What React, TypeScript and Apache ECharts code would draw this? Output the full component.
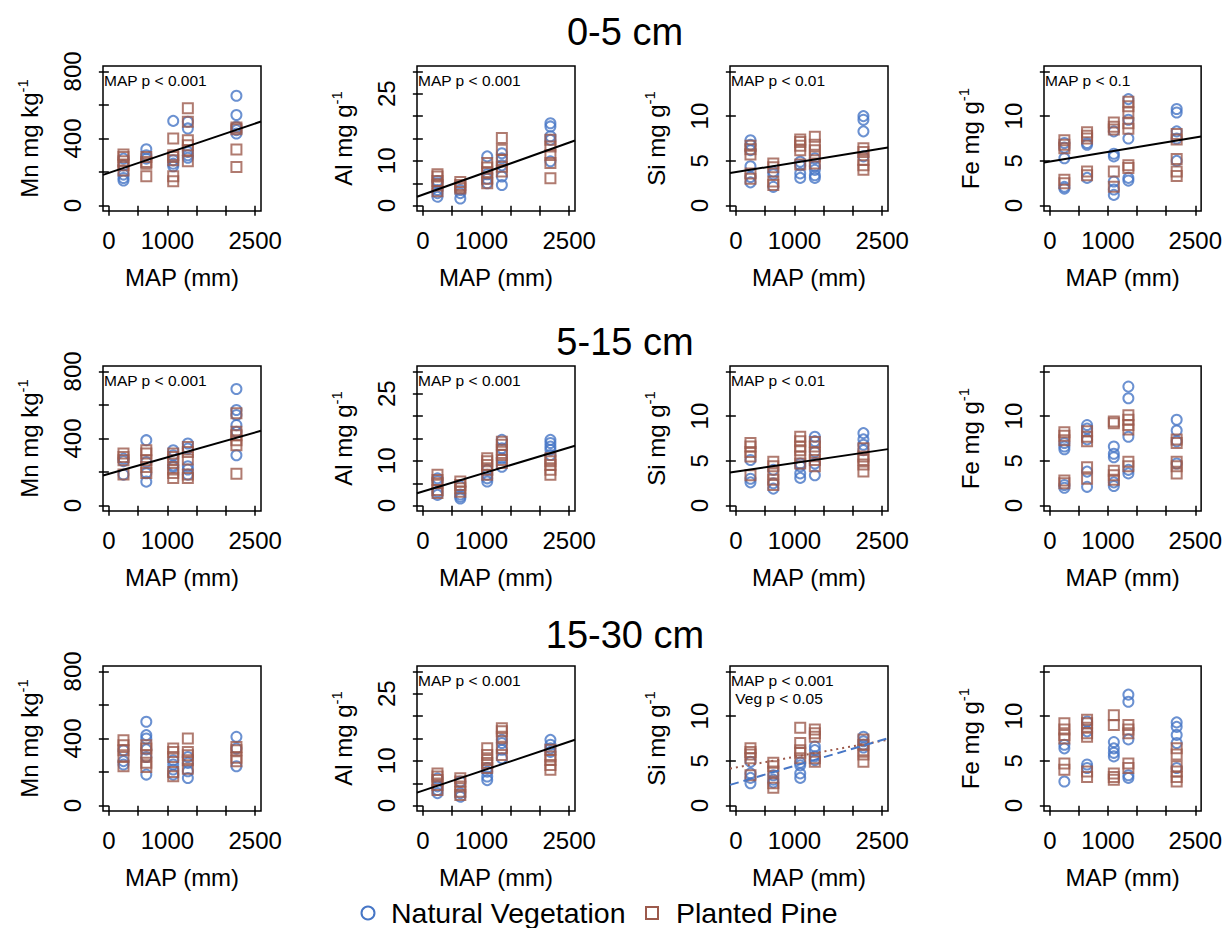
import React, { useEffect, useRef } from 'react';
import * as echarts from 'echarts';

// ---------- data ----------
const MAP = [250, 640, 1100, 1350, 2180];

const xTicks = [0, 500, 1000, 1500, 2000, 2500];
const xLabels = [0, 1000, 2500];
const mnTicks = [0, 200, 400, 600, 800];
const mnLabels = [0, 400, 800];
const alTicks = [0, 5, 10, 15, 20, 25, 30];
const alLabels = [0, 10, 25];
const siTicks = [0, 5, 10, 15];
const siLabels = [0, 5, 10];
const feTicks = [0, 5, 10, 15];
const feLabels = [0, 5, 10];

const depths = ['0-5 cm', '5-15 cm', '15-30 cm'];

// 0-5 cm
const mn05Nat = [[150, 165, 185, 240, 280], [336, 300, 280], [505, 270, 250, 235], [500, 460, 320, 285, 300], [655, 540, 470, 430, 450]];
const mn05Pine = [[210, 240, 265, 290, 305], [290, 250, 175, 260], [400, 290, 270, 175, 145, 300], [580, 500, 390, 360, 265, 330], [465, 455, 335, 230]];
const al05Nat = [[2.0, 2.8, 3.5, 5.0, 5.5], [1.6, 2.8, 3.5], [11.0, 7.0, 6.0, 5.0], [11.7, 10.6, 9.0, 6.5, 4.6], [18.4, 17.7, 15.5, 14.7, 9.9]];
const al05Pine = [[3.2, 4.5, 5.5, 6.5, 7.0], [3.8, 4.6, 5.3, 4.2], [9.5, 8.5, 7.5, 6.0, 5.0], [15.1, 12.5, 10.2, 8.7, 7.6], [14.7, 13.2, 11.3, 9.5, 6.1]];
const si05Nat = [[7.3, 6.8, 6.2, 4.4, 3.2, 2.6], [3.8, 3.5, 2.1], [4.9, 4.5, 3.6, 3.1], [5.3, 4.4, 4.0, 3.4, 3.1], [10.0, 9.6, 8.3, 5.5]];
const si05Pine = [[6.7, 6.3, 5.7, 3.6, 3.0], [4.7, 4.3, 2.7, 2.3], [7.4, 7.1, 6.7, 6.2, 4.6], [7.7, 6.8, 6.2, 5.5, 4.7], [6.4, 6.0, 5.1, 4.5, 4.0]];
const fe05Nat = [[7.0, 6.5, 5.3, 2.1, 1.9], [6.8, 7.0, 3.1], [8.3, 5.8, 5.5, 2.7, 1.8, 1.2], [11.9, 9.6, 7.5, 3.1, 2.8], [10.8, 10.4, 8.3, 7.5, 5.0]];
const fe05Pine = [[7.3, 6.8, 6.4, 2.9, 2.5], [8.2, 7.8, 7.5, 3.8, 3.4], [9.3, 8.8, 8.5, 3.8, 2.1], [11.6, 11.1, 10.4, 9.2, 8.6, 4.5, 4.2], [8.0, 7.4, 5.2, 3.8, 3.3]];

// 5-15 cm
const mn515Nat = [[280, 265, 185], [390, 260, 193, 143], [330, 300, 240, 230], [370, 340, 235, 215, 185], [695, 570, 540, 480, 440, 300]];
const mn515Pine = [[310, 290, 270, 185], [330, 310, 270, 230, 195], [310, 290, 270, 215, 195, 165], [350, 320, 275, 185, 165], [550, 440, 420, 390, 360, 190]];
const al515Nat = [[6.1, 5.5, 3.1, 2.4], [4.3, 2.5, 2.0, 1.6], [8.0, 6.9, 6.1, 5.4], [14.7, 12.8, 10.6, 8.7], [14.7, 14.0, 13.2, 12.5, 11.3]];
const al515Pine = [[6.9, 5.7, 5.0, 3.5, 2.8], [5.4, 4.6, 3.9, 3.1], [10.6, 9.9, 9.1, 8.0, 6.9], [14.3, 13.6, 12.5, 11.3, 10.2, 9.5], [10.6, 9.9, 9.1, 8.0, 6.9]];
const si515Nat = [[5.1, 3.0, 2.6], [4.0, 2.5, 1.9], [4.7, 4.4, 3.6, 3.1], [7.7, 7.2, 6.0, 4.7, 3.4], [8.1, 7.4, 6.8, 6.2]];
const si515Pine = [[7.0, 6.6, 6.0, 5.5, 3.4], [4.9, 4.4, 3.6, 2.9, 2.3], [7.7, 7.2, 6.6, 6.2, 5.5, 4.7], [7.1, 6.6, 5.9, 5.1, 4.4], [6.4, 5.5, 5.1, 4.6, 3.8]];
const fe515Nat = [[7.0, 6.6, 6.3, 2.3, 2.0], [9.0, 8.6, 7.4, 3.8, 2.1], [6.6, 5.8, 5.4, 2.6, 2.2], [13.3, 12.0, 7.7, 4.0, 3.6], [9.6, 8.4, 7.2, 4.7]];
const fe515Pine = [[8.2, 7.8, 7.3, 2.8, 2.5], [8.3, 7.7, 7.2, 4.3, 3.0], [9.4, 9.2, 3.9, 3.4, 2.9], [10.1, 9.6, 9.0, 8.5, 4.9, 4.4], [7.4, 7.0, 4.9, 4.4, 3.6]];

// 15-30 cm
const mn1530Nat = [[330, 265, 245], [500, 420, 400, 335, 290, 185], [270, 245, 215, 185], [290, 255, 205, 165], [410, 340, 235]];
const mn1530Pine = [[390, 360, 330, 290, 235], [360, 340, 300, 255, 230], [340, 320, 290, 200, 175], [400, 320, 300, 270, 220], [350, 330, 285, 265]];
const al1530Nat = [[6.1, 4.3, 3.5, 2.8], [5.4, 2.8, 2.0], [8.4, 7.6, 6.5, 5.7], [14.7, 14.0, 12.5, 10.6], [14.7, 13.6, 12.8, 12.0]];
const al1530Pine = [[7.2, 6.5, 5.7, 4.6, 3.5], [6.1, 5.4, 4.3, 3.1, 2.4], [12.8, 11.3, 10.2, 9.5, 8.4], [17.3, 16.6, 15.4, 12.8, 11.3], [12.5, 11.0, 10.2, 9.1, 8.0]];
const si1530Nat = [[4.9, 3.6, 3.1, 2.5], [3.4, 2.9, 2.6], [4.8, 4.5, 3.6, 3.1], [6.6, 6.2, 5.5, 5.1], [7.7, 7.2, 6.8, 6.5]];
const si1530Pine = [[6.4, 6.0, 5.7, 5.3, 3.4], [4.8, 4.4, 3.8, 2.5, 2.0], [8.7, 7.0, 6.2, 5.9, 5.3], [8.5, 8.1, 7.7, 5.3, 4.9], [7.4, 6.8, 6.2, 5.7, 4.9]];
const fe1530Nat = [[6.8, 6.4, 2.7], [9.4, 8.3, 4.6, 4.2], [7.1, 6.4, 5.9, 5.5], [12.4, 11.6, 7.4, 3.4, 3.1], [9.3, 8.8, 7.9, 7.0, 4.2]];
const fe1530Pine = [[9.2, 8.5, 7.9, 7.5, 4.7, 4.0], [9.6, 9.2, 8.7, 8.1, 7.7, 3.8, 3.2], [10.1, 9.0, 3.6, 3.2, 2.9], [9.0, 8.5, 8.1, 4.7, 4.2], [6.4, 5.7, 4.4, 3.8, 3.2, 2.7]];

// fitted lines: [intercept, slope per mm]
const mn05Fit = [195, 0.1178];
const al05Fit = [2.46, 0.004648];
const si05Fit = [3.74, 0.00106];
const fe05Fit = [4.92, 0.001078];
const mn515Fit = [189, 0.0989];
const al515Fit = [3.17, 0.00392];
const si515Fit = [3.79, 0.00097];
const al1530Fit = [3.35, 0.00437];
const si1530NatFit = [2.51, 0.00193];
const si1530PineFit = [4.26, 0.00119];

// ---------- styling / layout ----------
const FONT = "'Liberation Sans', Arial, Helvetica, sans-serif";
const BLUE = '#4676C6';
const BROWN = '#9C5A4C';
const boxLeft = [103, 417, 730, 1044];
const boxTop = [66, 366, 666];
const boxW = 158;
const boxH = 145;
const xLim = [0, 2500];
const AX_FS = 24;

type El = 'Mn' | 'Al' | 'Si' | 'Fe';
const yLim: Record<El, number[]> = { Mn: [0, 800], Al: [0, 30], Si: [0, 15], Fe: [0, 15] };
const yTickMap: Record<El, number[]> = { Mn: mnTicks, Al: alTicks, Si: siTicks, Fe: feTicks };
const yLabMap: Record<El, number[]> = { Mn: mnLabels, Al: alLabels, Si: siLabels, Fe: feLabels };
const yUnit: Record<El, string> = { Mn: 'mg kg', Al: 'mg g', Si: 'mg g', Fe: 'mg g' };

type Fit = { coef: number[]; color: string; type: any };
type Panel = { el: El; nat: number[][]; pine: number[][]; fits: Fit[]; notes: string[] };

const solid = (coef: number[]): Fit => ({ coef, color: '#000', type: 'solid' });

const panels: Panel[] = [
  { el: 'Mn', nat: mn05Nat, pine: mn05Pine, fits: [solid(mn05Fit)], notes: ['MAP p < 0.001'] },
  { el: 'Al', nat: al05Nat, pine: al05Pine, fits: [solid(al05Fit)], notes: ['MAP p < 0.001'] },
  { el: 'Si', nat: si05Nat, pine: si05Pine, fits: [solid(si05Fit)], notes: ['MAP p < 0.01'] },
  { el: 'Fe', nat: fe05Nat, pine: fe05Pine, fits: [solid(fe05Fit)], notes: ['MAP p < 0.1'] },
  { el: 'Mn', nat: mn515Nat, pine: mn515Pine, fits: [solid(mn515Fit)], notes: ['MAP p < 0.001'] },
  { el: 'Al', nat: al515Nat, pine: al515Pine, fits: [solid(al515Fit)], notes: ['MAP p < 0.001'] },
  { el: 'Si', nat: si515Nat, pine: si515Pine, fits: [solid(si515Fit)], notes: ['MAP p < 0.01'] },
  { el: 'Fe', nat: fe515Nat, pine: fe515Pine, fits: [], notes: [] },
  { el: 'Mn', nat: mn1530Nat, pine: mn1530Pine, fits: [], notes: [] },
  { el: 'Al', nat: al1530Nat, pine: al1530Pine, fits: [solid(al1530Fit)], notes: ['MAP p < 0.001'] },
  {
    el: 'Si', nat: si1530Nat, pine: si1530Pine,
    fits: [
      { coef: si1530PineFit, color: BROWN, type: [2, 4] },
      { coef: si1530NatFit, color: BLUE, type: [9, 5] },
    ],
    notes: ['MAP p < 0.001', ' Veg p < 0.05'],
  },
  { el: 'Fe', nat: fe1530Nat, pine: fe1530Pine, fits: [], notes: [] },
];

const pad = (lim: number[]) => {
  const d = (lim[1] - lim[0]) * 0.04;
  return [lim[0] - d, lim[1] + d];
};

const toPoints = (sites: number[][]) => {
  const out: number[][] = [];
  sites.forEach((vals, i) => vals.forEach((v) => out.push([MAP[i], v])));
  return out;
};

const plain = (v: number) => String(v);

function buildOption() {
  const grid: any[] = [];
  const xAxis: any[] = [];
  const yAxis: any[] = [];
  const series: any[] = [];
  const graphic: any[] = [];
  const xr = pad(xLim);

  panels.forEach((p, i) => {
    const r = Math.floor(i / 4);
    const c = i % 4;
    const L = boxLeft[c];
    const T = boxTop[r];
    grid.push({ left: L, top: T, width: boxW, height: boxH, show: true, borderColor: '#000', borderWidth: 1.5, backgroundColor: 'transparent' });
    xAxis.push({
      type: 'value', gridIndex: i, min: xr[0], max: xr[1],
      axisLine: { show: false }, splitLine: { show: false },
      axisTick: { show: true, inside: false, length: 10, customValues: xTicks, lineStyle: { color: '#000', width: 1.5 } },
      axisLabel: { customValues: xLabels, formatter: plain, fontSize: AX_FS, color: '#000', fontFamily: FONT, margin: 17 },
      name: 'MAP (mm)', nameLocation: 'middle', nameGap: 54,
      nameTextStyle: { fontSize: AX_FS, color: '#000', fontFamily: FONT },
    });
    const yr = pad(yLim[p.el]);
    yAxis.push({
      type: 'value', gridIndex: i, min: yr[0], max: yr[1],
      axisLine: { show: false }, splitLine: { show: false },
      axisTick: { show: true, inside: false, length: 10, customValues: yTickMap[p.el], lineStyle: { color: '#000', width: 1.5 } },
      axisLabel: { customValues: yLabMap[p.el], formatter: plain, rotate: 90, fontSize: AX_FS, color: '#000', fontFamily: FONT, margin: 19 },
      name: `{m|${p.el} ${yUnit[p.el]}}{s|-1}`,
      nameLocation: 'middle', nameRotate: 90, nameGap: 62,
      nameTextStyle: {
        color: '#000', fontFamily: FONT, fontSize: AX_FS,
        rich: {
          m: { fontSize: AX_FS, color: '#000', fontFamily: FONT, verticalAlign: 'bottom', lineHeight: 26 },
          s: { fontSize: 15, color: '#000', fontFamily: FONT, verticalAlign: 'top', lineHeight: 15 },
        },
      },
    });
    series.push({
      type: 'scatter', xAxisIndex: i, yAxisIndex: i, silent: true,
      symbol: 'circle', symbolSize: 10,
      itemStyle: { color: 'rgba(0,0,0,0)', borderColor: BLUE, borderWidth: 2 },
      data: toPoints(p.nat),
    });
    series.push({
      type: 'scatter', xAxisIndex: i, yAxisIndex: i, silent: true,
      symbol: 'rect', symbolSize: 10,
      itemStyle: { color: 'rgba(0,0,0,0)', borderColor: BROWN, borderWidth: 2 },
      data: toPoints(p.pine),
    });
    p.fits.forEach((f) => {
      series.push({
        type: 'line', xAxisIndex: i, yAxisIndex: i, silent: true,
        symbol: 'none', showSymbol: false, z: 5,
        lineStyle: { color: f.color, width: 2, type: f.type },
        data: [xr[0], xr[1]].map((x) => [x, f.coef[0] + f.coef[1] * x]),
      });
    });
    p.notes.forEach((t, k) => {
      graphic.push({
        type: 'text', x: L + 1, y: T + 14 + k * 18, z: 10,
        style: { text: t, fill: '#000', fontSize: 15.5, fontFamily: FONT, textAlign: 'left', textVerticalAlign: 'middle', align: 'left', verticalAlign: 'middle' },
      });
    });
  });

  const titleY = [32, 342, 635];
  depths.forEach((d, k) => {
    graphic.push({
      type: 'text', x: 625, y: titleY[k],
      style: { text: d, fill: '#000', fontSize: 38, fontFamily: FONT, textAlign: 'center', textVerticalAlign: 'middle', align: 'center', verticalAlign: 'middle' },
    });
  });

  // legend
  graphic.push({ type: 'circle', shape: { cx: 368, cy: 913, r: 6.5 }, style: { fill: 'none', stroke: BLUE, lineWidth: 2 } });
  graphic.push({
    type: 'text', x: 391, y: 913,
    style: { text: 'Natural Vegetation', fill: '#000', fontSize: 28.5, fontFamily: FONT, textAlign: 'left', textVerticalAlign: 'middle', align: 'left', verticalAlign: 'middle' },
  });
  graphic.push({ type: 'rect', shape: { x: 646, y: 907, width: 12, height: 12 }, style: { fill: 'none', stroke: BROWN, lineWidth: 2 } });
  graphic.push({
    type: 'text', x: 676, y: 913,
    style: { text: 'Planted Pine', fill: '#000', fontSize: 28.5, fontFamily: FONT, textAlign: 'left', textVerticalAlign: 'middle', align: 'left', verticalAlign: 'middle' },
  });

  return {
    animation: false,
    backgroundColor: '#fff',
    textStyle: { fontFamily: FONT, color: '#000' },
    grid, xAxis, yAxis, series, graphic,
  };
}

export default function App() {
  const ref = useRef<HTMLDivElement>(null);
  useEffect(() => {
    if (!ref.current) return;
    const chart = echarts.init(ref.current, undefined, { renderer: 'svg' });
    chart.setOption(buildOption() as any);
    return () => chart.dispose();
  }, []);
  return <div ref={ref} style={{ position: 'absolute', left: 0, top: 0, width: 1225, height: 928 }} />;
}
